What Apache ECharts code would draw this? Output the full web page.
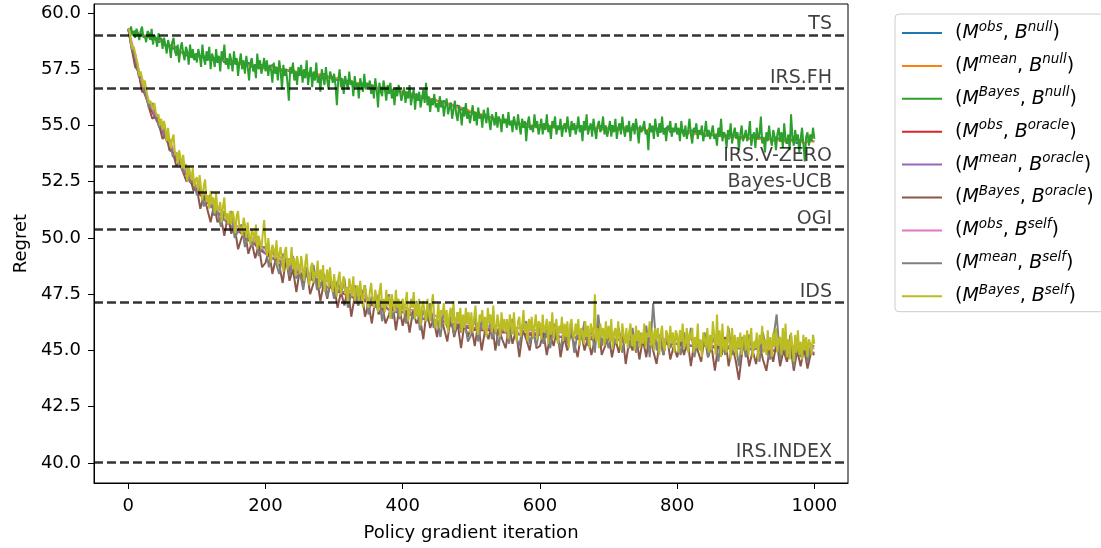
<!DOCTYPE html>
<html>
<head>
<meta charset="utf-8">
<script src="https://cdn.jsdelivr.net/npm/echarts@6/dist/echarts.min.js"></script>
<style>
    html, body { margin: 0; padding: 0; background: #fff; }
    #myChart { width: 1101px; height: 548px; }
</style>
</head>
<body>
<div id="myChart"></div>
<script>
    // the two curves on top are sampled every 2 iterations, the others every 5
    var iters2 = [];
    for (var i = 0; i <= 1000; i += 2) iters2.push(i);
    var iters5 = [];
    for (var j = 0; j <= 1000; j += 5) iters5.push(j);

    var seriesNames = ['(M^obs, B^null)', '(M^mean, B^null)', '(M^Bayes, B^null)',
        '(M^obs, B^oracle)', '(M^mean, B^oracle)', '(M^Bayes, B^oracle)',
        '(M^obs, B^self)', '(M^mean, B^self)', '(M^Bayes, B^self)'];
    var modelTags = ['obs', 'mean', 'Bayes', 'obs', 'mean', 'Bayes', 'obs', 'mean', 'Bayes'];
    var baselineTags = ['null', 'null', 'null', 'oracle', 'oracle', 'oracle', 'self', 'self', 'self'];
    var colors = ['#1f77b4', '#ff7f0e', '#2ca02c', '#d62728', '#9467bd', '#8c564b', '#e377c2', '#7f7f7f', '#bcbd22'];

    // horizontal reference levels
    var refNames = ['TS', 'IRS.FH', 'IRS.V-ZERO', 'Bayes-UCB', 'OGI', 'IDS', 'IRS.INDEX'];
    var refValues = [59.02, 56.66, 53.17, 52.03, 50.37, 47.13, 40.03];

    var xTicks = [0, 200, 400, 600, 800, 1000];
    var yTicks = [40, 42.5, 45, 47.5, 50, 52.5, 55, 57.5, 60];

    // step 5 (mostly hidden under the green curve)
    var nullObs = [
        59.3, 59.1, 59.2, 59.0, 59.1, 58.9, 59.0, 58.8, 58.9, 58.7, 58.8, 58.5, 58.6, 58.4, 58.5, 58.2, 58.3, 58.1, 58.2, 58.0,
        58.2, 58.0, 58.1, 57.9, 58.0, 58.0, 57.8, 58.0, 57.8, 57.9, 57.7, 57.9, 57.7, 57.8, 57.6, 57.8, 57.6, 57.7, 57.6, 57.7,
        57.6, 57.5, 57.7, 57.5, 57.6, 57.4, 57.5, 57.4, 57.5, 57.3, 57.4, 57.3, 57.4, 57.2, 57.3, 57.3, 57.2, 57.3, 57.1, 57.2,
        57.1, 57.0, 57.1, 56.9, 57.0, 56.9, 56.9, 56.8, 56.9, 56.7, 56.8, 56.8, 56.7, 56.6, 56.7, 56.6, 56.7, 56.5, 56.6, 56.5,
        56.5, 56.4, 56.5, 56.3, 56.4, 56.3, 56.2, 56.3, 56.1, 56.2, 56.1, 56.0, 56.1, 55.9, 56.0, 55.8, 55.9, 55.7, 55.8, 55.6,
        55.6, 55.5, 55.6, 55.4, 55.5, 55.3, 55.4, 55.2, 55.3, 55.2, 55.2, 55.1, 55.2, 55.0, 55.1, 55.0, 55.1, 54.9, 55.0, 55.0,
        55.0, 54.9, 55.1, 54.9, 55.0, 54.8, 55.0, 54.9, 55.0, 54.8, 55.0, 54.9, 55.0, 54.8, 54.9, 55.0, 54.8, 54.9, 55.0, 54.8,
        54.9, 55.0, 54.8, 54.9, 55.0, 54.8, 54.9, 54.8, 55.0, 54.8, 54.9, 54.7, 54.9, 54.8, 54.9, 54.7, 54.8, 54.9, 54.7, 54.8,
        54.8, 54.7, 54.8, 54.6, 54.8, 54.7, 54.6, 54.7, 54.5, 54.7, 54.6, 54.5, 54.7, 54.5, 54.6, 54.4, 54.6, 54.5, 54.4, 54.5,
        54.5, 54.4, 54.6, 54.4, 54.5, 54.3, 54.5, 54.4, 54.3, 54.5, 54.3, 54.4, 54.2, 54.4, 54.3, 54.2, 54.4, 54.2, 54.3, 54.3,
        54.3];
    // step 5
    var nullMean = [
        59.2, 59.2, 59.1, 59.1, 59.0, 59.0, 58.9, 58.9, 58.8, 58.8, 58.7, 58.6, 58.5, 58.5, 58.4, 58.3, 58.2, 58.2, 58.1, 58.1,
        58.1, 58.1, 58.0, 58.0, 57.9, 57.9, 57.9, 57.9, 57.9, 57.8, 57.8, 57.8, 57.8, 57.7, 57.7, 57.7, 57.7, 57.6, 57.7, 57.6,
        57.5, 57.6, 57.6, 57.6, 57.5, 57.5, 57.4, 57.5, 57.4, 57.4, 57.3, 57.4, 57.3, 57.3, 57.3, 57.2, 57.3, 57.2, 57.2, 57.1,
        57.1, 57.1, 57.0, 57.0, 56.9, 57.0, 56.8, 56.9, 56.8, 56.8, 56.7, 56.8, 56.6, 56.7, 56.6, 56.7, 56.6, 56.6, 56.5, 56.6,
        56.4, 56.5, 56.4, 56.4, 56.3, 56.3, 56.3, 56.2, 56.2, 56.1, 56.1, 56.1, 56.0, 56.0, 55.9, 55.9, 55.8, 55.8, 55.7, 55.7,
        55.6, 55.6, 55.5, 55.5, 55.4, 55.4, 55.3, 55.3, 55.3, 55.2, 55.2, 55.2, 55.1, 55.1, 55.1, 55.0, 55.0, 55.0, 55.0, 54.9,
        55.0, 55.0, 54.9, 55.0, 54.9, 54.9, 54.9, 55.0, 54.9, 54.9, 54.9, 55.0, 54.9, 54.9, 54.8, 54.9, 54.9, 54.9, 54.8, 54.9,
        54.9, 54.9, 54.9, 54.8, 54.9, 54.9, 54.8, 54.9, 54.9, 54.8, 54.8, 54.8, 54.8, 54.9, 54.8, 54.8, 54.8, 54.8, 54.8, 54.8,
        54.8, 54.7, 54.7, 54.7, 54.7, 54.6, 54.7, 54.6, 54.6, 54.6, 54.6, 54.6, 54.6, 54.5, 54.5, 54.5, 54.5, 54.5, 54.5, 54.4,
        54.5, 54.4, 54.5, 54.4, 54.4, 54.4, 54.4, 54.4, 54.3, 54.4, 54.3, 54.3, 54.3, 54.3, 54.3, 54.3, 54.3, 54.2, 54.3, 54.3,
        54.3];
    // step 2, one row = 50 iterations
    var nullBayes = [
        59.3, 59.1, 59.4, 59.0, 59.2, 58.9, 59.3, 59.1, 58.8, 59.2, 59.4, 58.9, 59.0, 58.7, 59.2, 59.1, 58.8, 59.3, 58.6, 59.0, 58.9, 58.5, 59.1, 58.8, 58.9,
        58.4, 58.9, 58.6, 58.2, 58.8, 58.5, 58.0, 58.7, 58.9, 58.3, 58.1, 58.6, 57.8, 58.4, 58.7, 58.2, 57.9, 58.5, 58.3, 57.7, 58.6, 58.0, 58.4, 57.9, 58.2,
        57.8, 58.4, 58.1, 57.6, 58.6, 58.0, 57.7, 58.3, 57.9, 58.5, 57.5, 58.2, 58.0, 57.6, 58.4, 57.8, 58.1, 57.4, 58.3, 57.9, 58.6, 57.7, 58.0, 57.5, 58.2,
        57.9, 57.4, 58.3, 57.7, 58.0, 57.2, 57.8, 58.2, 57.5, 57.9, 57.3, 58.1, 57.6, 57.0, 57.8, 58.0, 57.4, 57.7, 57.1, 58.2, 57.5, 57.9, 57.3, 57.6, 58.0,
        57.4, 57.9, 57.2, 57.7, 57.5, 56.9, 57.8, 57.3, 57.6, 57.0, 57.9, 57.4, 56.6, 57.7, 57.2, 57.5, 56.9, 56.1, 57.6, 57.3, 57.8, 57.0, 57.4, 56.8, 57.6,
        57.2, 57.7, 56.9, 57.5, 57.1, 57.9, 56.8, 57.3, 57.6, 56.7, 57.4, 57.0, 57.8, 56.9, 57.2, 56.5, 57.5, 57.1, 56.8, 57.6, 57.0, 56.6, 57.4, 57.2, 56.9,
        57.3, 56.8, 55.9, 57.0, 57.5, 56.7, 57.1, 56.4, 57.2, 56.9, 56.6, 57.4, 56.8, 57.0, 56.3, 57.2, 56.7, 56.9, 56.2, 57.1, 56.8, 56.5, 57.3, 56.6, 56.9,
        56.7, 57.0, 56.4, 56.8, 56.2, 57.1, 56.6, 55.8, 56.9, 56.5, 56.3, 57.0, 56.6, 56.1, 56.8, 56.4, 56.9, 56.2, 56.6, 55.9, 56.7, 56.3, 56.8, 56.5, 56.1,
        56.4, 56.7, 56.0, 56.5, 56.2, 56.8, 55.9, 56.3, 56.6, 55.7, 56.4, 56.1, 56.5, 55.8, 56.2, 56.6, 56.0, 56.9, 55.9, 56.3, 55.6, 56.2, 55.9, 56.4, 55.8,
        56.0, 55.6, 56.3, 55.8, 56.1, 55.4, 55.9, 56.2, 55.5, 55.8, 56.0, 55.3, 55.7, 56.1, 55.5, 55.2, 55.9, 55.6, 55.0, 55.8, 55.4, 56.0, 55.3, 55.6, 55.1,
        55.5, 55.9, 55.2, 55.6, 55.0, 55.8, 55.3, 55.5, 54.9, 55.7, 55.4, 55.1, 55.8, 55.2, 54.8, 55.5, 55.3, 55.0, 55.6, 54.9, 55.4, 55.2, 54.7, 55.5, 55.1,
        55.3, 54.9, 55.6, 55.0, 55.2, 54.7, 55.4, 55.1, 54.8, 55.5, 55.0, 54.6, 55.3, 54.9, 55.2, 54.3, 55.1, 55.4, 54.8, 55.0, 54.7, 55.5, 54.9, 55.2, 54.6,
        54.9, 55.3, 54.6, 55.1, 54.8, 55.5, 54.7, 55.0, 54.4, 55.2, 54.9, 55.4, 54.6, 55.0, 54.8, 55.3, 54.5, 54.9, 55.1, 54.7, 55.4, 54.9, 54.5, 55.2, 54.8,
        55.1, 54.6, 54.9, 55.4, 54.7, 55.0, 54.3, 55.2, 54.8, 55.5, 54.6, 54.9, 55.1, 54.5, 55.3, 54.8, 54.4, 55.0, 55.2, 54.7, 54.9, 55.4, 54.6, 55.0, 54.5,
        54.8, 55.2, 54.5, 55.0, 54.7, 55.3, 54.4, 54.9, 55.1, 54.6, 55.4, 54.8, 54.5, 55.0, 54.7, 55.2, 54.3, 54.9, 55.1, 54.6, 55.3, 54.8, 54.2, 55.0, 54.7,
        54.9, 55.2, 54.6, 54.8, 53.9, 55.1, 54.7, 55.0, 54.4, 55.3, 54.8, 54.5, 55.1, 54.7, 55.4, 54.6, 54.9, 54.3, 55.0, 54.8, 55.2, 54.5, 54.9, 54.7, 55.1,
        54.6, 54.9, 54.3, 55.2, 54.7, 54.5, 55.0, 54.4, 54.8, 55.3, 54.6, 54.2, 54.9, 54.7, 55.1, 54.4, 54.8, 54.6, 55.0, 54.3, 54.7, 55.2, 54.5, 54.8, 54.4,
        54.7, 55.0, 54.4, 54.6, 54.1, 54.9, 54.5, 55.3, 54.3, 54.7, 54.6, 54.0, 54.8, 54.5, 55.1, 54.2, 54.6, 54.9, 54.4, 54.7, 53.9, 54.6, 55.0, 54.3, 54.5,
        54.8, 54.3, 54.6, 55.2, 54.1, 54.5, 54.7, 54.0, 54.9, 54.4, 54.6, 55.4, 54.2, 54.5, 53.8, 54.7, 54.3, 55.0, 54.4, 54.1, 54.8, 54.5, 53.9, 54.6, 54.9,
        54.3, 54.7, 54.0, 55.1, 54.4, 54.2, 54.6, 53.9, 55.5, 54.5, 54.1, 54.8, 54.3, 54.6, 53.8, 54.4, 54.9, 54.2, 53.4, 54.5, 54.7, 54.1, 54.6, 54.3, 54.9,
        54.4];
    // step 5 (hidden under the lower band)
    var oracleObs = [
        59.3, 58.5, 57.9, 57.3, 56.7, 56.3, 55.9, 55.6, 55.3, 55.0, 54.7, 54.4, 54.1, 53.8, 53.5, 53.3, 53.0, 52.8, 52.5, 52.3,
        52.1, 51.9, 51.8, 51.6, 51.4, 51.3, 51.1, 51.0, 50.8, 50.7, 50.5, 50.4, 50.3, 50.2, 50.0, 49.9, 49.8, 49.7, 49.5, 49.4,
        49.3, 49.2, 49.1, 49.0, 49.0, 48.8, 48.8, 48.6, 48.6, 48.5, 48.4, 48.3, 48.3, 48.2, 48.1, 48.0, 48.0, 47.9, 47.8, 47.8,
        47.7, 47.6, 47.6, 47.5, 47.5, 47.4, 47.3, 47.3, 47.2, 47.2, 47.1, 47.0, 47.1, 47.0, 46.9, 46.9, 46.8, 46.8, 46.7, 46.7,
        46.7, 46.6, 46.6, 46.5, 46.6, 46.5, 46.4, 46.4, 46.4, 46.3, 46.3, 46.2, 46.3, 46.2, 46.1, 46.2, 46.1, 46.0, 46.1, 46.0,
        46.0, 45.9, 46.0, 45.9, 45.9, 45.9, 45.9, 45.8, 45.9, 45.8, 45.8, 45.8, 45.8, 45.8, 45.7, 45.8, 45.7, 45.7, 45.7, 45.7,
        45.7, 45.7, 45.6, 45.7, 45.6, 45.6, 45.6, 45.6, 45.6, 45.6, 45.6, 45.5, 45.6, 45.5, 45.5, 45.5, 45.5, 45.5, 45.5, 45.5,
        45.5, 45.5, 45.4, 45.5, 45.4, 45.4, 45.4, 45.4, 45.4, 45.4, 45.4, 45.3, 45.4, 45.3, 45.3, 45.3, 45.3, 45.3, 45.3, 45.3,
        45.3, 45.3, 45.2, 45.3, 45.2, 45.2, 45.2, 45.2, 45.2, 45.2, 45.2, 45.1, 45.2, 45.1, 45.1, 45.1, 45.1, 45.1, 45.1, 45.1,
        45.1, 45.1, 45.0, 45.1, 45.0, 45.0, 45.0, 45.0, 45.0, 45.0, 45.0, 44.9, 45.0, 44.9, 44.9, 44.9, 44.9, 44.9, 44.9, 44.9,
        44.9];
    // step 5
    var oracleMean = [
        59.3, 58.6, 57.9, 57.4, 56.7, 56.4, 55.9, 55.7, 55.3, 55.1, 54.7, 54.5, 54.1, 53.9, 53.5, 53.4, 53.0, 52.9, 52.5, 52.4,
        52.1, 52.0, 51.8, 51.7, 51.4, 51.4, 51.1, 51.1, 50.8, 50.8, 50.5, 50.5, 50.3, 50.3, 50.0, 50.0, 49.8, 49.8, 49.5, 49.5,
        49.3, 49.3, 49.1, 49.1, 49.0, 48.9, 48.8, 48.7, 48.6, 48.6, 48.4, 48.4, 48.3, 48.3, 48.1, 48.1, 48.0, 48.0, 47.8, 47.9,
        47.7, 47.7, 47.6, 47.6, 47.5, 47.5, 47.3, 47.4, 47.2, 47.3, 47.1, 47.1, 47.1, 47.1, 46.9, 47.0, 46.8, 46.9, 46.7, 46.8,
        46.7, 46.7, 46.6, 46.6, 46.6, 46.6, 46.4, 46.5, 46.4, 46.4, 46.3, 46.3, 46.3, 46.3, 46.1, 46.2, 46.1, 46.1, 46.1, 46.1,
        46.0, 46.0, 46.0, 46.0, 45.9, 46.0, 45.9, 45.9, 45.9, 45.9, 45.8, 45.9, 45.8, 45.9, 45.7, 45.8, 45.7, 45.8, 45.7, 45.8,
        45.7, 45.8, 45.6, 45.7, 45.6, 45.7, 45.6, 45.7, 45.6, 45.6, 45.6, 45.6, 45.6, 45.6, 45.5, 45.6, 45.5, 45.6, 45.5, 45.5,
        45.5, 45.5, 45.4, 45.5, 45.4, 45.5, 45.4, 45.5, 45.4, 45.4, 45.4, 45.4, 45.4, 45.4, 45.3, 45.4, 45.3, 45.4, 45.3, 45.3,
        45.3, 45.3, 45.2, 45.3, 45.2, 45.3, 45.2, 45.3, 45.2, 45.2, 45.2, 45.2, 45.2, 45.2, 45.1, 45.2, 45.1, 45.2, 45.1, 45.1,
        45.1, 45.1, 45.0, 45.1, 45.0, 45.1, 45.0, 45.1, 45.0, 45.0, 45.0, 45.0, 45.0, 45.0, 44.9, 45.0, 44.9, 45.0, 44.9, 44.9,
        44.9];
    // step 5
    var oracleBayes = [
        59.3, 58.4, 57.6, 57.4, 56.5, 56.5, 55.8, 55.3, 55.4, 55.0, 54.4, 54.6, 53.9, 53.8, 53.2, 53.4, 52.9, 52.5, 52.7, 52.1,
        52.2, 51.3, 51.9, 51.3, 50.7, 51.5, 50.7, 50.9, 50.1, 51.0, 50.2, 50.5, 49.5, 50.0, 50.3, 49.3, 49.8, 49.1, 49.7, 48.7,
        48.9, 49.5, 48.4, 49.1, 48.8, 48.0, 49.1, 48.1, 48.6, 47.6, 48.6, 48.0, 48.6, 47.5, 48.0, 48.2, 47.2, 48.0, 47.3, 48.1,
        47.9, 46.9, 47.6, 47.0, 47.8, 46.5, 47.4, 47.0, 47.7, 46.5, 47.1, 46.2, 47.3, 46.6, 47.0, 46.2, 46.6, 47.2, 45.9, 46.9,
        46.1, 46.8, 45.8, 46.8, 46.2, 46.5, 45.5, 46.8, 46.0, 46.4, 45.6, 46.5, 46.0, 45.4, 46.5, 45.6, 46.2, 45.1, 46.2, 45.6,
        46.1, 45.2, 46.2, 45.0, 45.9, 45.5, 46.3, 45.0, 46.0, 45.5, 45.1, 46.1, 45.3, 45.9, 44.7, 45.9, 45.5, 45.0, 46.0, 45.1,
        45.2, 45.8, 44.8, 45.7, 45.2, 46.0, 44.7, 45.6, 45.0, 45.8, 45.3, 44.7, 45.8, 45.0, 45.6, 44.8, 45.5, 46.3, 44.8, 45.2,
        45.7, 44.7, 45.5, 44.9, 45.8, 44.4, 45.4, 45.0, 45.7, 44.6, 45.5, 44.7, 45.8, 45.0, 44.4, 45.5, 44.8, 45.7, 44.6, 45.2,
        44.7, 45.4, 44.8, 45.5, 44.3, 45.4, 45.0, 44.5, 45.6, 44.7, 45.2, 44.1, 45.3, 44.8, 45.6, 44.3, 45.2, 44.6, 43.7, 45.0,
        45.3, 44.3, 45.0, 44.4, 45.3, 44.6, 44.1, 45.1, 44.5, 45.4, 44.3, 45.0, 44.5, 45.2, 44.1, 45.0, 44.3, 45.1, 44.2, 44.9,
        44.8];
    // step 5
    var selfObs = [
        59.3, 58.7, 58.1, 57.5, 56.9, 56.5, 56.1, 55.8, 55.5, 55.2, 54.9, 54.6, 54.3, 54.0, 53.7, 53.5, 53.2, 53.0, 52.7, 52.5,
        52.3, 52.1, 52.0, 51.8, 51.6, 51.5, 51.3, 51.2, 51.0, 50.9, 50.8, 50.6, 50.5, 50.4, 50.3, 50.1, 50.0, 49.9, 49.8, 49.6,
        49.5, 49.4, 49.3, 49.3, 49.2, 49.0, 49.0, 48.8, 48.8, 48.7, 48.6, 48.6, 48.5, 48.4, 48.3, 48.3, 48.2, 48.1, 48.1, 48.0,
        47.9, 47.9, 47.8, 47.8, 47.7, 47.6, 47.6, 47.5, 47.5, 47.4, 47.3, 47.3, 47.3, 47.2, 47.2, 47.1, 47.1, 47.0, 47.0, 46.9,
        46.9, 46.9, 46.8, 46.8, 46.8, 46.7, 46.7, 46.6, 46.6, 46.6, 46.5, 46.5, 46.5, 46.4, 46.4, 46.4, 46.3, 46.3, 46.3, 46.2,
        46.2, 46.2, 46.2, 46.2, 46.1, 46.1, 46.1, 46.1, 46.1, 46.1, 46.0, 46.0, 46.0, 46.0, 46.0, 46.0, 46.0, 45.9, 45.9, 45.9,
        45.9, 45.9, 45.9, 45.9, 45.9, 45.8, 45.8, 45.8, 45.8, 45.8, 45.8, 45.8, 45.8, 45.8, 45.8, 45.8, 45.7, 45.7, 45.7, 45.7,
        45.7, 45.7, 45.7, 45.7, 45.7, 45.6, 45.6, 45.6, 45.6, 45.6, 45.6, 45.6, 45.6, 45.6, 45.6, 45.6, 45.5, 45.5, 45.5, 45.5,
        45.5, 45.5, 45.5, 45.5, 45.5, 45.4, 45.4, 45.4, 45.4, 45.4, 45.4, 45.4, 45.4, 45.4, 45.4, 45.4, 45.3, 45.3, 45.3, 45.3,
        45.3, 45.3, 45.3, 45.3, 45.3, 45.2, 45.2, 45.2, 45.2, 45.2, 45.2, 45.2, 45.2, 45.2, 45.2, 45.2, 45.1, 45.1, 45.1, 45.1,
        45.1];
    // step 5
    var selfMean = [
        59.3, 58.4, 58.2, 57.2, 57.1, 56.4, 55.8, 56.0, 55.5, 54.9, 55.1, 54.4, 54.4, 53.6, 53.8, 53.3, 52.9, 53.1, 52.5, 52.5,
        51.9, 52.3, 51.4, 51.8, 51.9, 51.0, 51.2, 50.5, 51.2, 50.6, 51.2, 50.0, 50.3, 50.6, 49.6, 50.2, 49.6, 50.2, 49.2, 49.6,
        49.6, 48.7, 49.6, 48.9, 48.4, 49.3, 49.0, 48.3, 49.2, 48.2, 48.5, 47.7, 48.7, 48.1, 48.8, 47.7, 47.8, 48.4, 47.4, 48.1,
        47.3, 48.1, 47.5, 48.2, 46.9, 47.5, 47.9, 47.0, 47.3, 47.9, 46.6, 47.4, 46.9, 47.5, 46.3, 47.1, 47.5, 46.4, 47.1, 46.4,
        47.1, 46.2, 46.8, 46.4, 47.2, 45.9, 46.8, 46.3, 47.1, 46.0, 46.4, 45.6, 46.8, 46.0, 46.5, 45.7, 46.7, 45.8, 46.3, 45.4,
        45.7, 46.5, 45.4, 46.3, 45.8, 46.6, 45.5, 46.0, 45.2, 46.3, 46.1, 45.3, 46.4, 45.6, 45.2, 46.1, 46.3, 45.3, 45.8, 45.2,
        46.1, 45.3, 45.9, 45.1, 46.2, 45.5, 45.1, 45.9, 45.3, 46.2, 44.9, 45.8, 45.5, 46.3, 45.2, 46.0, 44.9, 46.6, 45.2, 45.8,
        45.1, 45.8, 45.3, 46.0, 44.9, 45.7, 45.1, 46.0, 44.9, 45.8, 45.3, 46.1, 44.7, 47.1, 45.0, 45.7, 44.8, 45.8, 45.1, 45.5,
        45.6, 44.8, 45.8, 45.0, 46.0, 44.7, 45.4, 45.0, 45.8, 44.7, 45.3, 45.6, 44.5, 45.7, 44.8, 46.0, 44.8, 45.4, 44.3, 45.6,
        44.7, 45.7, 44.9, 45.5, 44.5, 45.8, 45.0, 44.6, 45.5, 46.6, 44.6, 45.3, 44.7, 45.7, 44.3, 45.3, 44.7, 45.5, 44.5, 45.2,
        45.2];
    // step 2, one row = 50 iterations
    var selfBayes = [
        59.3, 59.2, 58.7, 58.4, 58.5, 58.2, 58.2, 57.7, 57.2, 57.4, 57.1, 56.7, 57.0, 56.6, 56.3, 56.0, 56.1, 56.1, 55.7, 56.0, 55.6, 55.4, 55.5, 55.0, 55.3,
        54.8, 55.2, 54.9, 54.3, 54.9, 54.3, 54.0, 54.4, 54.6, 53.7, 53.8, 53.3, 53.9, 53.6, 53.1, 53.7, 53.1, 53.3, 52.5, 53.2, 52.9, 52.6, 53.1, 52.3, 52.6,
        52.7, 52.1, 52.8, 52.2, 51.7, 52.3, 52.6, 51.6, 51.9, 51.3, 52.1, 51.5, 51.8, 51.1, 52.0, 51.2, 51.3, 51.6, 50.7, 51.4, 51.8, 50.8, 51.1, 50.6, 51.2,
        50.6, 51.2, 50.9, 50.2, 51.0, 51.2, 50.4, 50.5, 50.1, 50.9, 50.6, 50.0, 50.7, 50.1, 49.7, 50.4, 50.2, 49.8, 50.6, 49.5, 50.1, 49.8, 49.5, 50.2, 50.8,
        49.8, 49.2, 50.0, 49.4, 48.9, 49.7, 49.5, 49.1, 49.9, 48.8, 49.3, 49.6, 49.0, 48.5, 49.4, 49.6, 48.6, 49.1, 48.8, 49.6, 48.6, 49.1, 48.3, 49.2, 48.8,
        48.4, 49.2, 48.7, 48.1, 48.9, 49.3, 48.3, 47.9, 48.7, 48.9, 48.0, 48.5, 48.3, 49.0, 47.8, 48.6, 48.1, 48.8, 47.6, 48.2, 48.6, 47.8, 48.7, 48.0, 47.6,
        48.4, 47.8, 47.4, 48.2, 48.5, 47.5, 48.0, 48.3, 47.5, 47.8, 47.1, 48.2, 47.9, 47.4, 48.3, 47.2, 47.7, 47.9, 47.2, 48.1, 47.4, 46.9, 47.9, 47.7, 47.2,
        46.9, 47.6, 48.0, 47.3, 46.9, 47.7, 47.3, 46.7, 47.6, 48.0, 46.9, 47.3, 46.7, 47.7, 47.0, 47.4, 46.4, 47.5, 47.1, 46.7, 47.7, 46.9, 47.3, 46.5, 47.1,
        47.3, 46.6, 47.1, 47.6, 46.3, 46.7, 47.3, 46.9, 47.6, 46.4, 47.1, 46.5, 47.3, 46.1, 46.9, 47.2, 46.6, 46.3, 47.3, 46.7, 46.3, 47.0, 47.5, 46.4, 46.0,
        46.4, 47.1, 46.0, 46.8, 46.6, 47.1, 46.1, 46.8, 45.8, 46.6, 46.9, 46.2, 47.2, 45.9, 46.4, 46.7, 46.2, 46.9, 45.8, 46.6, 46.0, 46.9, 46.2, 46.7, 45.8,
        46.7, 45.8, 46.4, 47.0, 46.0, 45.7, 46.6, 46.3, 46.8, 45.9, 46.5, 45.6, 46.9, 46.2, 46.6, 45.8, 47.0, 46.0, 45.8, 46.6, 46.2, 45.6, 46.7, 45.9, 46.4,
        45.8, 46.4, 45.5, 46.6, 46.2, 45.7, 46.7, 45.9, 45.4, 46.3, 46.5, 45.6, 46.1, 46.8, 45.8, 46.2, 45.4, 46.4, 45.9, 46.5, 45.6, 46.1, 46.6, 45.5, 46.3,
        46.2, 45.5, 46.6, 45.8, 46.0, 46.4, 45.3, 46.3, 45.7, 46.7, 45.5, 46.0, 46.4, 45.3, 46.1, 45.8, 46.5, 45.4, 46.2, 45.6, 46.3, 45.1, 46.1, 46.4, 45.7,
        45.5, 46.2, 45.7, 46.4, 45.2, 46.0, 45.8, 45.3, 46.3, 45.6, 46.1, 45.1, 46.2, 45.9, 45.5, 47.5, 45.4, 46.0, 45.1, 46.2, 45.6, 46.0, 45.2, 46.3, 45.5,
        46.1, 45.4, 46.4, 45.1, 45.8, 46.0, 45.3, 46.3, 45.5, 45.0, 46.2, 45.7, 45.3, 46.0, 45.1, 45.8, 46.2, 45.2, 45.7, 45.0, 46.1, 45.4, 45.9, 45.1, 45.8,
        45.3, 46.2, 45.1, 45.8, 45.6, 46.3, 45.2, 45.9, 45.0, 46.0, 45.5, 46.0, 44.8, 45.7, 46.1, 45.2, 45.0, 45.9, 45.6, 45.1, 46.1, 45.3, 45.8, 44.9, 45.9,
        45.7, 44.9, 45.9, 45.4, 46.2, 45.1, 45.3, 46.0, 44.9, 45.8, 45.5, 46.0, 44.9, 45.6, 45.1, 46.2, 45.0, 45.5, 44.7, 45.8, 45.5, 45.1, 46.0, 44.9, 45.7,
        45.0, 46.3, 45.7, 44.8, 46.6, 45.2, 45.9, 44.7, 46.2, 45.0, 45.5, 44.9, 46.1, 45.4, 44.6, 46.0, 45.0, 45.7, 44.7, 45.6, 45.1, 45.8, 44.8, 45.5, 45.7,
        45.0, 45.9, 44.8, 45.5, 46.0, 44.7, 45.4, 45.1, 45.8, 44.6, 45.7, 45.3, 46.1, 44.9, 45.5, 44.8, 45.9, 45.0, 45.6, 44.7, 45.8, 45.2, 46.0, 44.9, 45.5,
        45.6, 44.8, 46.0, 45.0, 46.2, 44.7, 45.5, 44.6, 45.8, 45.2, 44.5, 45.7, 44.9, 45.9, 44.8, 45.4, 44.6, 45.7, 45.0, 45.6, 44.7, 45.5, 45.3, 44.8, 45.7,
        45.3];

    var allValues = [nullObs, nullMean, nullBayes, oracleObs, oracleMean, oracleBayes, selfObs, selfMean, selfBayes];

    var font = 'DejaVu Sans';

    function toPairs(vals) {
        var xs = vals.length > 300 ? iters2 : iters5;
        return vals.map(function (v, k) { return [xs[k], v]; });
    }

    var series = allValues.map(function (vals, idx) {
        return {
            name: seriesNames[idx],
            type: 'line',
            data: toPairs(vals),
            symbol: 'none',
            showSymbol: false,
            color: colors[idx],
            lineStyle: { width: 2, color: colors[idx] },
            z: 2
        };
    });

    // dashed benchmark levels, labelled at the right end
    series[series.length - 1].markLine = {
        silent: true,
        symbol: ['none', 'none'],
        animation: false,
        lineStyle: { type: [9, 4], color: 'rgba(0,0,0,0.8)', width: 2.5 },
        label: {
            show: true,
            position: 'insideEndTop',
            formatter: '{b}',
            fontFamily: font,
            fontSize: 19,
            color: 'rgba(0,0,0,0.75)',
            distance: [16, 1]
        },
        emphasis: { disabled: true },
        data: refNames.map(function (n, k) { return { name: n, yAxis: refValues[k] }; })
    };

    var myChart = echarts.init(document.getElementById('myChart'));
    myChart.setOption({
        animation: false,
        textStyle: { fontFamily: font },
        grid: {
            left: 94, right: 253, top: 4, bottom: 65,
            show: true, borderColor: '#000', borderWidth: 1
        },
        legend: {
            orient: 'vertical',
            left: 895,
            top: 14,
            padding: [6, 10, 6, 7],
            icon: 'rect',
            itemWidth: 40,
            itemHeight: 2,
            itemGap: 10.4,
            borderColor: '#cccccc',
            borderWidth: 1,
            borderRadius: 4,
            data: seriesNames,
            formatter: function (name) {
                var k = seriesNames.indexOf(name);
                return '{t|(}{it|M}{sup|' + modelTags[k] + '}{t|, }{it|B}{sup|' + baselineTags[k] + '}{t|)}';
            },
            textStyle: {
                padding: [0, 0, 0, 8],
                rich: {
                    t: { fontFamily: font, fontSize: 19, lineHeight: 26, color: '#000' },
                    it: { fontFamily: font, fontSize: 19, fontStyle: 'italic', lineHeight: 26, color: '#000' },
                    sup: { fontFamily: font, fontSize: 13.5, fontStyle: 'italic', lineHeight: 13, verticalAlign: 'top', color: '#000' }
                }
            }
        },
        xAxis: {
            type: 'value',
            min: -50,
            max: 1049,
            name: 'Policy gradient iteration',
            nameLocation: 'middle',
            nameGap: 41,
            nameTextStyle: { fontFamily: font, fontSize: 18, color: '#000' },
            axisLine: { show: true, onZero: false, lineStyle: { color: '#000', width: 1 } },
            axisTick: { show: true, length: 6, lineStyle: { color: '#000' }, customValues: xTicks },
            axisLabel: {
                fontFamily: font, fontSize: 18, color: '#000', margin: 14, customValues: xTicks,
                formatter: function (v) { return String(v); }
            },
            splitLine: { show: false }
        },
        yAxis: {
            type: 'value',
            min: 39.11,
            max: 60.4,
            name: 'Regret',
            nameLocation: 'middle',
            nameGap: 62,
            nameTextStyle: { fontFamily: font, fontSize: 18, color: '#000' },
            axisLine: { show: true, onZero: false, lineStyle: { color: '#000', width: 1 } },
            axisTick: { show: true, length: 6, lineStyle: { color: '#000' }, customValues: yTicks },
            axisLabel: {
                fontFamily: font, fontSize: 18, color: '#000', margin: 13, customValues: yTicks,
                formatter: function (v) { return v.toFixed(1); }
            },
            splitLine: { show: false }
        },
        series: series
    });
</script>
</body>
</html>
